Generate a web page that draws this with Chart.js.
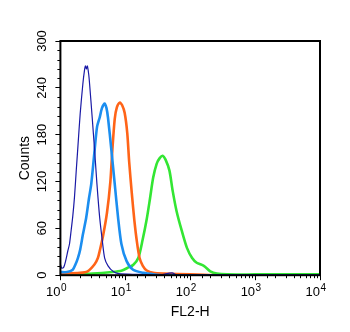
<!DOCTYPE html>
<html>
<head>
<meta charset="utf-8">
<script src="https://cdn.jsdelivr.net/npm/chart.js@4.4.0/dist/chart.umd.min.js"></script>
<style>
    html, body { margin: 0; padding: 0; background: #fff; }
    #wrap { width: 350px; height: 332px; }
</style>
</head>
<body>
<div id="wrap"><canvas id="chartFL2"></canvas></div>
<script>
// tick labels (decade base + exponent)
const xTickBase = "10";
const xTickExponents = ["0", "1", "2", "3", "4"];
const yTickLabels = [0, 60, 120, 180, 240, 300];

// dark blue (thin) histogram
const navyFL2 = [1, 1.047, 1.122, 1.202, 1.30, 1.38, 1.462, 1.549, 1.648, 1.758, 1.862, 2.018, 2.218, 2.355, 2.427, 2.512, 2.60, 2.723, 2.818, 3.09, 3.365, 3.656, 4.027, 4.426, 4.808, 5.42, 6.457, 7.94, 15.85, 31.6, 52.5, 63.1, 10000];
const navyCounts = [14, 9, 10, 18, 31, 40, 57, 75, 100, 135, 165, 207, 245, 263, 268, 264, 268, 258, 245, 202, 160, 117, 74, 44, 22, 12, 5, 2, 1, 0, 3, 0, 0];

// light blue histogram
const blueFL2 = [1, 1.26, 1.55, 1.71, 1.86, 2.02, 2.22, 2.50, 2.75, 2.99, 3.365, 3.67, 4.03, 4.365, 4.81, 5.13, 5.41, 6.11, 6.87, 7.73, 8.71, 10.47, 13.18, 19.05, 28.2, 39.8, 10000];
const blueCounts = [4, 4, 7, 14, 22, 33, 52, 74, 98, 117, 160, 190, 202, 214, 220, 214, 202, 160, 117, 74, 40, 18, 7, 3, 1, 0, 0];

// orange histogram
const orangeFL2 = [1, 2.0, 2.63, 3.365, 3.78, 4.03, 4.53, 5.22, 5.89, 6.31, 6.87, 7.41, 8.22, 8.91, 9.77, 10.72, 11.48, 12.59, 13.8, 15.14, 16.6, 18.6, 21.4, 26.9, 39.8, 100, 251, 10000];
const orangeCounts = [2, 3, 5, 14, 22, 31, 50, 80, 120, 160, 200, 215, 221, 218, 208, 182, 145, 105, 70, 42, 22, 12, 6, 3, 2, 1, 0, 0];

// green histogram
const greenFL2 = [1, 3.16, 6.31, 8.91, 11.2, 13.2, 15.85, 18.45, 21.4, 24.0, 26.9, 30.5, 33.9, 37.7, 41.7, 47.9, 53.7, 61.7, 74.1, 89.1, 107, 126, 162, 204, 257, 372, 1000, 10000];
const greenCounts = [1, 2, 4, 6, 10, 13, 22, 45, 72, 98, 125, 143, 150, 153, 148, 134, 108, 82, 57, 35, 22, 16, 12, 5, 2, 1, 1, 1];

function toPoints(xs, ys) {
    return xs.map((x, i) => ({ x: x, y: ys[i] }));
}

function logExponent(v) {
    const e = Math.round(Math.log10(v));
    return Math.abs(Math.log10(v) - e) < 1e-6 ? e : null;
}

const TICK_LEN = 5;
const X_TICK_PAD = 6;

// box around plot, short minor tick marks, superscript exponents
const frameAndMinorTicks = {
    id: "frameAndMinorTicks",
    afterDatasetsDraw(chart) {
        const { ctx, chartArea: a, scales } = chart;
        ctx.save();
        ctx.strokeStyle = "#000";
        ctx.lineWidth = 2;
        ctx.strokeRect(a.left, a.top, a.right - a.left, a.bottom - a.top);
        ctx.lineWidth = 1;
        ctx.beginPath();
        scales.x.ticks.forEach((t) => {
            if (logExponent(t.value) !== null) return;
            const px = Math.round(scales.x.getPixelForValue(t.value)) + 0.5;
            ctx.moveTo(px, a.bottom);
            ctx.lineTo(px, a.bottom + 3);
        });
        scales.y.ticks.forEach((t) => {
            if (yTickLabels.includes(t.value)) return;
            const py = Math.round(scales.y.getPixelForValue(t.value)) + 0.5;
            ctx.moveTo(a.left - 3, py);
            ctx.lineTo(a.left, py);
        });
        ctx.stroke();

        // exponents next to each "10"
        ctx.fillStyle = "#000";
        ctx.font = "10px 'Liberation Sans', Arial, sans-serif";
        ctx.textAlign = "left";
        ctx.textBaseline = "top";
        const labelTop = scales.x.top + TICK_LEN + X_TICK_PAD;
        scales.x.ticks.forEach((t) => {
            const e = logExponent(t.value);
            if (e === null) return;
            const px = scales.x.getPixelForValue(t.value);
            ctx.fillText(xTickExponents[e], px + 0.5, labelTop - 2.5);
        });
        ctx.restore();
    },
};

Chart.defaults.font.family = "'Liberation Sans', Arial, sans-serif";
Chart.defaults.color = "#000";

new Chart(document.getElementById("chartFL2"), {
    type: "line",
    data: {
        datasets: [
            {
                label: "dark blue",
                data: toPoints(navyFL2, navyCounts),
                borderColor: "#1a1aa6",
                borderWidth: 1.2,
            },
            {
                label: "light blue",
                data: toPoints(blueFL2, blueCounts),
                borderColor: "#1b8ef0",
                borderWidth: 2.6,
            },
            {
                label: "orange",
                data: toPoints(orangeFL2, orangeCounts),
                borderColor: "#ff6418",
                borderWidth: 2.6,
            },
            {
                label: "green",
                data: toPoints(greenFL2, greenCounts),
                borderColor: "#33e633",
                borderWidth: 2.6,
            },
        ],
    },
    options: {
        responsive: true,
        maintainAspectRatio: false,
        animation: false,
        layout: { padding: { top: 41, right: 30, bottom: 11, left: 17 } },
        elements: {
            point: { radius: 0 },
            line: { tension: 0.25, fill: false },
        },
        plugins: {
            legend: { display: false },
            tooltip: { enabled: false },
        },
        scales: {
            x: {
                type: "logarithmic",
                min: 1,
                max: 10000,
                border: { display: false },
                grid: {
                    drawOnChartArea: false,
                    tickLength: TICK_LEN,
                    tickColor: (c) => (c.tick && logExponent(c.tick.value) !== null ? "#000" : "rgba(0,0,0,0)"),
                },
                ticks: {
                    autoSkip: false,
                    maxRotation: 0,
                    align: "end",
                    padding: X_TICK_PAD,
                    font: { size: 13, lineHeight: 1.0 },
                    callback: function (value) {
                        return logExponent(value) === null ? "" : xTickBase;
                    },
                },
                title: { display: true, text: "FL2-H", font: { size: 14 }, padding: { top: -1, bottom: 0 } },
            },
            y: {
                min: 0,
                max: 300,
                border: { display: false },
                grid: {
                    drawOnChartArea: false,
                    tickLength: TICK_LEN,
                    tickColor: (c) => (c.tick && yTickLabels.includes(c.tick.value) ? "#000" : "rgba(0,0,0,0)"),
                },
                ticks: {
                    stepSize: 12,
                    autoSkip: false,
                    minRotation: 90,
                    maxRotation: 90,
                    crossAlign: "center",
                    padding: 2,
                    font: { size: 13 },
                    callback: (value) => (yTickLabels.includes(value) ? String(value) : ""),
                },
                title: { display: true, text: "Counts", font: { size: 14 }, padding: { top: 0, bottom: 2 } },
            },
        },
    },
    plugins: [frameAndMinorTicks],
});
</script>
</body>
</html>
